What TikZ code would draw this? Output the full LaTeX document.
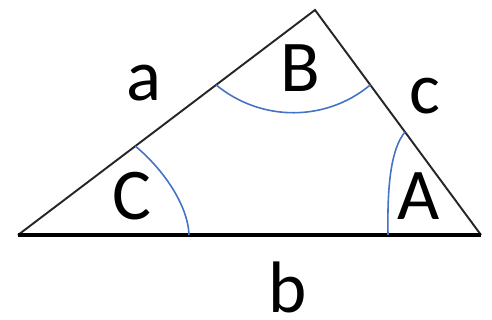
\documentclass[tikz,border=0pt]{standalone}
\usepackage{fontspec}
\setmainfont{Carlito}
\usepackage{xcolor}
\usetikzlibrary{calc}

\definecolor{arcblue}{HTML}{4472C4}

\begin{document}
\begin{tikzpicture}[
    x=0.02cm, y=-0.02cm,
    side/.style={draw=black!85, line width=1.1pt},
    base/.style={draw=black, line width=1.8pt},
    angarc/.style={draw=arcblue, line width=0.9pt},
    label/.style={font=\fontsize{41.5}{48}\selectfont, inner sep=0pt, anchor=center},
]
\useasboundingbox (0,0) rectangle (492,320);

% corners
\coordinate (L) at (18,235);
\coordinate (T) at (315,10);
\coordinate (R) at (481,235);

% where the arcs meet the sides
\coordinate (ca) at ($(L)!0.395!(T)$);
\coordinate (ba) at ($(L)!0.667!(T)$);
\coordinate (bc) at ($(T)!0.333!(R)$);
\coordinate (ac) at ($(T)!0.542!(R)$);
\coordinate (cb) at (189,235);
\coordinate (ab) at (388,235);

\draw[side] (L) -- (T) -- (R);
\draw[base] (L) -- (R);

\draw[angarc] (ca) .. controls (163,169) and (188,205) .. (cb);
\draw[angarc] (ba) .. controls (261,122) and (326,122) .. (bc);
\draw[angarc] (ac) .. controls (392,148) and (387,180) .. (ab);

\node[label] (la) at (144,83)  {a};
\node[label] (lb) at (288,287) {b};
\node[label] (lc) at (425,96)  {c};
\node[label] (lA) at (419,196) {A};
\node[label] (lB) at (300,68)  {B};
\node[label] (lC) at (132,196) {C};

\end{tikzpicture}
\end{document}
